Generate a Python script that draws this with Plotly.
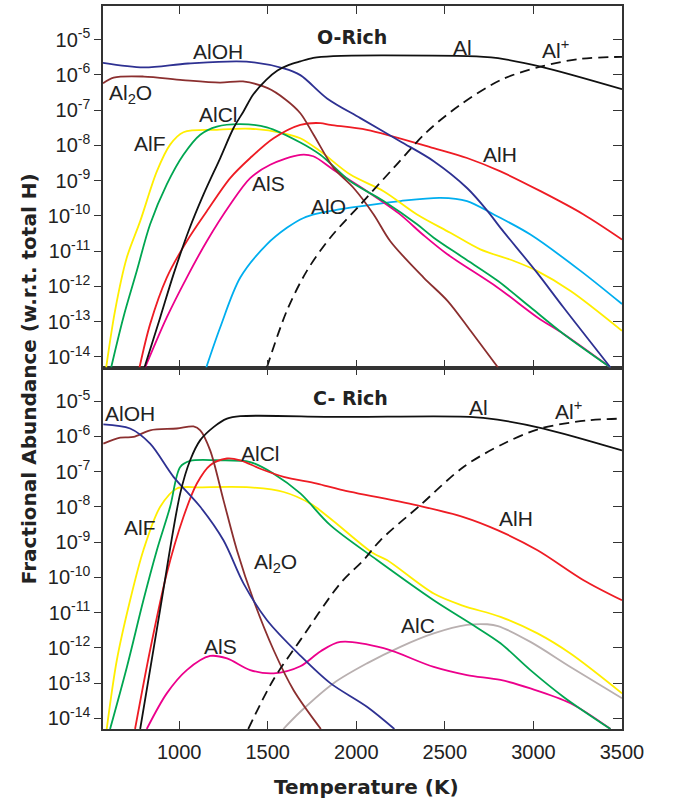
import plotly.graph_objects as go

# ---------------- data (T in K, log10 abundance w.r.t. total H) ----------------
# O-rich panel
o_AlOH_T = [570, 800, 1050, 1380, 1590, 1684, 1835, 2023, 2249, 2437, 2625, 2739, 2814, 3020, 3170, 3435]
o_AlOH_y = [-5.66, -5.79, -5.68, -5.63, -5.82, -6.01, -6.67, -7.23, -7.89, -8.45, -9.21, -9.85, -10.34, -11.61, -12.6, -14.3]
o_Al2O_T = [570, 630, 800, 1020, 1230, 1360, 1500, 1600, 1684, 1759, 1872, 1985, 2098, 2192, 2380, 2515, 2645, 2800]
o_Al2O_y = [-6.24, -6.08, -6.05, -6.15, -6.22, -6.19, -6.38, -6.70, -7.09, -7.70, -8.64, -9.21, -9.96, -10.72, -11.75, -12.41, -13.26, -14.3]
o_Al_T = [804, 893, 968, 1053, 1137, 1232, 1307, 1363, 1418, 1490, 1555, 1620, 1684, 1757, 1870, 2140, 2718, 2800, 3040, 3500]
o_Al_y = [-14.3, -12.88, -11.66, -10.43, -9.40, -8.36, -7.51, -7.04, -6.56, -6.15, -5.88, -5.72, -5.62, -5.52, -5.47, -5.45, -5.49, -5.53, -5.77, -6.41]
o_Alp_T = [1495, 1608, 1721, 1853, 2023, 2211, 2400, 2588, 2814, 3040, 3265, 3500]
o_Alp_y = [-14.3, -12.69, -11.56, -10.62, -9.68, -8.64, -7.61, -6.85, -6.15, -5.77, -5.55, -5.49]
o_AlF_T = [588, 638, 704, 780, 874, 949, 1024, 1213, 1401, 1589, 1684, 1797, 1966, 2154, 2343, 2531, 2700, 2890, 3020, 3210, 3500]
o_AlF_y = [-14.3, -12.69, -11.19, -10.15, -8.74, -7.98, -7.63, -7.56, -7.53, -7.66, -7.80, -8.17, -8.83, -9.30, -9.96, -10.48, -10.95, -11.28, -11.56, -12.13, -13.26]
o_AlCl_T = [616, 685, 761, 836, 930, 1024, 1119, 1213, 1345, 1495, 1684, 1797, 1966, 2154, 2343, 2437, 2605, 2800, 2985, 3170, 3435]
o_AlCl_y = [-14.3, -12.88, -11.56, -10.24, -9.11, -8.27, -7.70, -7.47, -7.40, -7.49, -7.92, -8.27, -9.02, -9.58, -10.24, -10.62, -11.19, -11.85, -12.6, -13.35, -14.3]
o_AlH_T = [776, 836, 930, 1043, 1156, 1288, 1401, 1533, 1684, 1797, 1853, 2060, 2437, 2625, 2814, 3040, 3283, 3500]
o_AlH_y = [-14.3, -13.07, -11.75, -10.72, -9.87, -8.93, -8.36, -7.80, -7.42, -7.37, -7.42, -7.56, -8.08, -8.36, -8.74, -9.30, -9.96, -10.67]
o_AlS_T = [808, 930, 1043, 1156, 1288, 1401, 1514, 1684, 1757, 1870, 2060, 2240, 2380, 2514, 2797, 3023, 3170, 3435]
o_AlS_y = [-14.3, -12.88, -11.75, -10.72, -9.68, -8.93, -8.55, -8.27, -8.31, -8.69, -9.30, -9.93, -10.55, -11.09, -12.03, -12.88, -13.35, -14.3]
o_AlO_T = [1153, 1232, 1345, 1495, 1608, 1702, 1778, 1966, 2249, 2475, 2625, 2776, 2983, 3266, 3500]
o_AlO_y = [-14.3, -13.16, -11.75, -10.81, -10.34, -10.06, -9.94, -9.77, -9.58, -9.49, -9.58, -9.96, -10.53, -11.56, -12.5]

# C-rich panel
c_AlOH_T = [572, 723, 836, 968, 1119, 1250, 1363, 1495, 1684, 1853, 2060, 2215]
c_AlOH_y = [-5.66, -5.78, -6.21, -7.15, -8.0, -8.95, -10.17, -11.21, -12.22, -13.0, -13.67, -14.3]
c_Al2O_T = [572, 667, 742, 836, 987, 1081, 1119, 1175, 1250, 1326, 1420, 1533, 1646, 1800]
c_Al2O_y = [-6.21, -6.04, -6.02, -5.83, -5.78, -5.72, -5.83, -6.40, -7.81, -9.23, -10.65, -12.06, -13.20, -14.3]
c_Al_T = [780, 893, 1006, 1062, 1119, 1194, 1270, 1345, 1910, 2640, 2797, 3057, 3500]
c_Al_y = [-14.3, -10.9, -7.62, -6.68, -6.11, -5.74, -5.50, -5.43, -5.45, -5.45, -5.53, -5.78, -6.40]
c_Alp_T = [1390, 1531, 1684, 1910, 2041, 2136, 2362, 2605, 2831, 3040, 3306, 3500]
c_Alp_y = [-14.3, -12.91, -11.78, -10.17, -9.51, -8.95, -7.95, -6.87, -6.21, -5.78, -5.55, -5.50]
c_AlF_T = [591, 648, 723, 798, 893, 987, 1119, 1401, 1590, 1741, 1853, 2096, 2173, 2437, 2600, 2814, 3023, 3209, 3500]
c_AlF_y = [-14.3, -12.35, -10.65, -9.23, -8.0, -7.48, -7.45, -7.45, -7.58, -7.91, -8.33, -9.32, -9.51, -10.46, -10.8, -11.12, -11.59, -12.16, -13.29]
c_AlCl_T = [610, 705, 798, 874, 949, 1006, 1062, 1213, 1401, 1533, 1684, 1853, 2117, 2437, 2661, 2814, 2983, 3170, 3435]
c_AlCl_y = [-14.3, -12.54, -10.65, -9.23, -8.0, -6.87, -6.70, -6.68, -6.73, -7.06, -7.62, -8.52, -9.51, -10.65, -11.36, -11.87, -12.63, -13.39, -14.3]
c_AlH_T = [751, 836, 930, 1024, 1100, 1175, 1270, 1345, 1458, 1590, 1778, 1910, 2362, 2605, 2797, 3023, 3283, 3500]
c_AlH_y = [-14.3, -12.06, -9.89, -8.29, -7.34, -6.82, -6.63, -6.68, -6.92, -7.15, -7.34, -7.51, -7.98, -8.29, -8.66, -9.23, -10.08, -10.65]
c_AlS_T = [817, 930, 1043, 1175, 1270, 1401, 1533, 1684, 1797, 1910, 2154, 2437, 2625, 2814, 2983, 3209, 3435]
c_AlS_y = [-14.3, -13.29, -12.63, -12.23, -12.30, -12.63, -12.72, -12.52, -12.1, -11.83, -12.01, -12.54, -12.77, -12.91, -13.15, -13.57, -14.3]
c_AlC_T = [1588, 1684, 1872, 2060, 2249, 2437, 2625, 2739, 2800, 2983, 3209, 3500]
c_AlC_y = [-14.3, -13.81, -13.0, -12.44, -11.97, -11.59, -11.35, -11.33, -11.38, -11.83, -12.54, -13.43]

x_ticks = [1000, 1500, 2000, 2500, 3000, 3500]
y_exps = [-5, -6, -7, -8, -9, -10, -11, -12, -13, -14]

# ---------------- styling ----------------
COL = {
    "AlOH": "#2E3192", "Al2O": "#8B2F2F", "Al": "#111111", "Al+": "#111111",
    "AlF": "#FFEE00", "AlCl": "#00A651", "AlH": "#EE1C24", "AlS": "#EC008C",
    "AlO": "#00AEEF", "AlC": "#B9B0B0",
}

fig = go.Figure()

def add(T, ly, name, xa, ya, dash="solid"):
    fig.add_trace(go.Scatter(
        x=T, y=[10 ** v for v in ly], mode="lines", name=name,
        line=dict(color=COL[name], width=1.8, dash=dash, shape="spline", smoothing=0.9),
        xaxis=xa, yaxis=ya, showlegend=False, hoverinfo="skip"))

# upper (O-rich) -> x2/y2
for T, ly, n in [(o_AlO_T, o_AlO_y, "AlO"), (o_AlS_T, o_AlS_y, "AlS"), (o_AlF_T, o_AlF_y, "AlF"),
                 (o_AlCl_T, o_AlCl_y, "AlCl"), (o_AlH_T, o_AlH_y, "AlH"), (o_Al2O_T, o_Al2O_y, "Al2O"),
                 (o_AlOH_T, o_AlOH_y, "AlOH"), (o_Al_T, o_Al_y, "Al")]:
    add(T, ly, n, "x2", "y2")
add(o_Alp_T, o_Alp_y, "Al+", "x2", "y2", dash="10px,6px")

# lower (C-rich) -> x/y
for T, ly, n in [(c_AlC_T, c_AlC_y, "AlC"), (c_AlS_T, c_AlS_y, "AlS"), (c_AlF_T, c_AlF_y, "AlF"),
                 (c_AlCl_T, c_AlCl_y, "AlCl"), (c_AlH_T, c_AlH_y, "AlH"), (c_Al2O_T, c_Al2O_y, "Al2O"),
                 (c_AlOH_T, c_AlOH_y, "AlOH"), (c_Al_T, c_Al_y, "Al")]:
    add(T, ly, n, "x", "y")
add(c_Alp_T, c_Alp_y, "Al+", "x", "y", dash="10px,6px")

# empty traces for right-side overlay axes (inside ticks on the right)
fig.add_trace(go.Scatter(x=[None], y=[None], xaxis="x", yaxis="y3", showlegend=False, hoverinfo="skip"))
fig.add_trace(go.Scatter(x=[None], y=[None], xaxis="x2", yaxis="y4", showlegend=False, hoverinfo="skip"))

AX = "#333333"
XR = [570, 3500]
YR = [-14.3, -4.05]
tickvals_y = [10 ** e for e in y_exps]
ticktext_y = ["10<sup>%d</sup>" % e for e in y_exps]
tfont = dict(family="Liberation Sans, Arial", size=20, color="#222222")

def yax(domain, **kw):
    d = dict(type="log", range=YR, domain=domain, tickvals=tickvals_y, ticktext=ticktext_y,
             ticks="outside", ticklen=7, tickwidth=1.3, tickcolor=AX, showline=True, linecolor=AX,
             linewidth=1.5, mirror=True, showgrid=False, zeroline=False, tickfont=tfont)
    d.update(kw)
    return d

def yright(over, anchor):
    return dict(type="log", range=YR, overlaying=over, side="right", anchor=anchor,
                tickvals=tickvals_y, ticks="inside", ticklen=9, tickwidth=1.3, tickcolor=AX,
                showticklabels=False, showgrid=False, zeroline=False, showline=False)

def xax(anchor, labels, **kw):
    d = dict(range=XR, anchor=anchor, domain=[0, 1], tickvals=x_ticks, ticks="inside", ticklen=8,
             tickwidth=1.3, tickcolor=AX, mirror="ticks", showline=True, linecolor=AX, linewidth=1.5,
             showgrid=False, zeroline=False, showticklabels=labels, ticklabelstandoff=4,
             tickfont=dict(family="Liberation Sans, Arial", size=20, color="#222222"))
    d.update(kw)
    return d

fig.update_layout(
    width=675, height=801,
    margin=dict(l=103, r=53, t=4, b=72),
    paper_bgcolor="white", plot_bgcolor="white",
    xaxis=xax("y", True),
    xaxis2=xax("y2", False, matches="x"),
    yaxis=yax([0, 0.5]),
    yaxis2=yax([0.5, 1]),
    yaxis3=yright("y", "x"),
    yaxis4=yright("y2", "x2"),
)

lab_font = dict(family="Liberation Sans, Arial", size=21, color="#222222")
bold_font = dict(family="DejaVu Sans", size=19, color="#222222")

upper_labels = [("AlOH", 1220, -5.35), ("Al<sub>2</sub>O", 723, -6.55), ("AlCl", 1220, -7.13),
                ("AlF", 836, -7.95), ("AlS", 1503, -9.08), ("AlO", 1842, -9.73),
                ("Al", 2600, -5.23), ("Al<sup>+</sup>", 3125, -5.26), ("AlH", 2814, -8.26)]
lower_labels = [("AlOH", 720, -5.35), ("AlCl", 1458, -6.48), ("AlF", 780, -8.58),
                ("Al<sub>2</sub>O", 1542, -9.6), ("AlS", 1232, -11.95), ("AlC", 2350, -11.36),
                ("Al", 2690, -5.18), ("Al<sup>+</sup>", 3198, -5.26), ("AlH", 2900, -8.33)]

for t, x, y in upper_labels:
    fig.add_annotation(text=t, x=x, y=y, xref="x2", yref="y2", showarrow=False, font=lab_font)
for t, x, y in lower_labels:
    fig.add_annotation(text=t, x=x, y=y, xref="x", yref="y", showarrow=False, font=lab_font)

fig.add_annotation(text="<b>O-Rich</b>", x=1977, y=-4.92, xref="x2", yref="y2", showarrow=False, font=bold_font)
fig.add_annotation(text="<b>C- Rich</b>", x=1966, y=-4.92, xref="x", yref="y", showarrow=False, font=bold_font)

fig.add_annotation(text="<b>Fractional Abundance (w.r.t. total H)</b>", x=-0.168, y=0.485,
                   xref="paper", yref="paper", textangle=-90, showarrow=False,
                   font=dict(family="DejaVu Sans", size=20, color="#222222"))
fig.add_annotation(text="<b>Temperature (K)</b>", x=0.507, y=-0.08, xref="paper", yref="paper",
                   showarrow=False, yanchor="middle",
                   font=dict(family="DejaVu Sans", size=20, color="#222222"))

fig.write_html("out.html", config={"displayModeBar": False},
               post_script="document.body.style.margin='0px';")
